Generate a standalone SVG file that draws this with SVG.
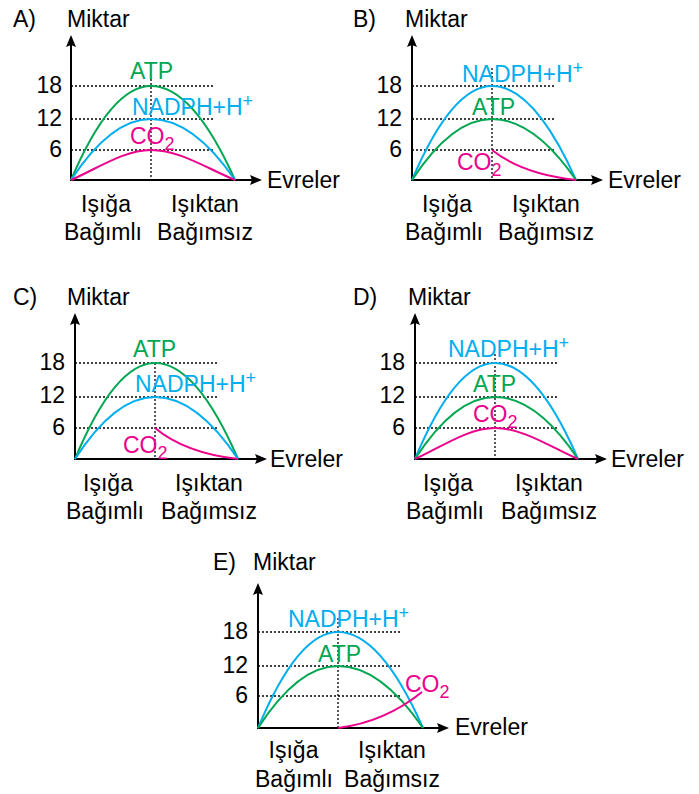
<svg xmlns="http://www.w3.org/2000/svg" width="699" height="794" viewBox="0 0 699 794">
<style>
text{font-family:"Liberation Sans",Arial,sans-serif;font-size:23px;fill:#000}
.mid{text-anchor:middle}
.end{text-anchor:end}
.ax{stroke:#000;stroke-width:2;fill:none}
.dot{stroke:#000;stroke-width:1.3;stroke-dasharray:2 2;fill:none}
.c{fill:none;stroke-width:2}
.g{stroke:#00A651}.b{stroke:#00AEEF}.m{stroke:#EC008C}
text.tg{fill:#00A651}text.tb{fill:#00AEEF}text.tm{fill:#EC008C}
.s{font-size:18px}
</style>
<defs>
<marker id="arr" viewBox="0 0 12 10" refX="10" refY="5" markerWidth="12" markerHeight="10" markerUnits="userSpaceOnUse" orient="auto">
<path d="M0,0 L12,5 L0,10 L2,5 z" fill="#000"/>
</marker>
</defs>
<rect width="699" height="794" fill="#fff"/>

<g id="panelA">
<text x="13" y="27">A)</text>
<text x="67" y="27">Miktar</text>
<g id="A-connectors">
<path class="dot" d="M71,86H215M71,119H215M71,150H215M151,79V180"/>
<path class="ax" d="M71,181V37" marker-end="url(#arr)"/>
<path class="ax" d="M70,180H260" marker-end="url(#arr)"/>
<path class="c g" d="M71,180 Q111,86 151,86 Q193,86 235,180"/>
<path class="c b" d="M71,180 Q111,119 151,119 Q193,119 235,180"/>
<path class="c m" d="M71,180 C97.4,168.6 123.8,150 151,150 C179.6,150 207.3,168.6 235,180"/>
</g>
<text class="end" x="62" y="92.5">18</text>
<text class="end" x="62" y="125.5">12</text>
<text class="end" x="62" y="156.5">6</text>
<text x="267" y="188">Evreler</text>
<text class="mid" x="106" y="212">Işığa</text>
<text class="mid" x="103" y="240">Bağımlı</text>
<text class="mid" x="205" y="212">Işıktan</text>
<text class="mid" x="205" y="240">Bağımsız</text>
<text class="tg" x="130" y="79">ATP</text>
<text class="tb" x="132" y="115">NADPH+H<tspan class="s" dy="-8">+</tspan></text>
<text class="tm" x="130" y="143.5">CO<tspan class="s" dy="6">2</tspan></text>
</g>

<g id="panelB">
<text x="353" y="27">B)</text>
<text x="405" y="27">Miktar</text>
<g id="B-connectors">
<path class="dot" d="M412,86H556M412,119H556M412,150H556M492,68V180"/>
<path class="ax" d="M412,181V37" marker-end="url(#arr)"/>
<path class="ax" d="M411,180H601" marker-end="url(#arr)"/>
<path class="c b" d="M412,180 Q452,86 492,86 Q534,86 576,180"/>
<path class="c g" d="M412,180 Q452,119 492,119 Q534,119 576,180"/>
<path class="c m" d="M492,150 Q522,174 576,180"/>
</g>
<text class="end" x="402" y="92.5">18</text>
<text class="end" x="402" y="125.5">12</text>
<text class="end" x="402" y="156.5">6</text>
<text x="608" y="188">Evreler</text>
<text class="mid" x="447" y="212">Işığa</text>
<text class="mid" x="444" y="240">Bağımlı</text>
<text class="mid" x="546" y="212">Işıktan</text>
<text class="mid" x="546" y="240">Bağımsız</text>
<text class="tb" x="462" y="81.5">NADPH+H<tspan class="s" dy="-8">+</tspan></text>
<text class="tg" x="472" y="115">ATP</text>
<text class="tm" x="457" y="170">CO<tspan class="s" dy="6">2</tspan></text>
</g>

<g id="panelC">
<text x="13" y="305">C)</text>
<text x="67" y="305">Miktar</text>
<g id="C-connectors">
<path class="dot" d="M75,363H218M75,397H218M75,428H218M155,363V459"/>
<path class="ax" d="M75,460V315" marker-end="url(#arr)"/>
<path class="ax" d="M74,459H265" marker-end="url(#arr)"/>
<path class="c g" d="M75,459 Q115,363 155,363 Q196.5,363 238,459"/>
<path class="c b" d="M75,459 Q115,397 155,397 Q196.5,397 238,459"/>
<path class="c m" d="M155,428 Q185,453 238,459"/>
</g>
<text class="end" x="65" y="369.5">18</text>
<text class="end" x="65" y="403">12</text>
<text class="end" x="65" y="434.5">6</text>
<text x="270" y="467">Evreler</text>
<text class="mid" x="108" y="491">Işığa</text>
<text class="mid" x="105" y="519">Bağımlı</text>
<text class="mid" x="209" y="491">Işıktan</text>
<text class="mid" x="209" y="519">Bağımsız</text>
<text class="tg" x="133" y="357">ATP</text>
<text class="tb" x="135" y="392">NADPH+H<tspan class="s" dy="-8">+</tspan></text>
<text class="tm" x="123" y="453">CO<tspan class="s" dy="6">2</tspan></text>
</g>

<g id="panelD">
<text x="353" y="305">D)</text>
<text x="408" y="305">Miktar</text>
<g id="D-connectors">
<path class="dot" d="M415,363H558M415,397H558M415,428H558M495,354V459"/>
<path class="ax" d="M415,460V315" marker-end="url(#arr)"/>
<path class="ax" d="M414,459H605" marker-end="url(#arr)"/>
<path class="c b" d="M415,459 Q455,363 495,363 Q536.5,363 578,459"/>
<path class="c g" d="M415,459 Q455,397 495,397 Q536.5,397 578,459"/>
<path class="c m" d="M415,459 C441.4,447.2 467.8,428 495,428 C523.2,428 550.6,447.2 578,459"/>
</g>
<text class="end" x="405" y="369.5">18</text>
<text class="end" x="405" y="403">12</text>
<text class="end" x="405" y="434.5">6</text>
<text x="611" y="467">Evreler</text>
<text class="mid" x="448" y="491">Işığa</text>
<text class="mid" x="445" y="519">Bağımlı</text>
<text class="mid" x="549" y="491">Işıktan</text>
<text class="mid" x="549" y="519">Bağımsız</text>
<text class="tb" x="448" y="357">NADPH+H<tspan class="s" dy="-8">+</tspan></text>
<text class="tg" x="473" y="392">ATP</text>
<text class="tm" x="473" y="422">CO<tspan class="s" dy="6">2</tspan></text>
</g>

<g id="panelE">
<text x="213" y="570">E)</text>
<text x="253" y="570">Miktar</text>
<g id="E-connectors">
<path class="dot" d="M258,632H402M258,666H402M258,696H402M338,618V728"/>
<path class="ax" d="M258,729V585" marker-end="url(#arr)"/>
<path class="ax" d="M257,728H447" marker-end="url(#arr)"/>
<path class="c b" d="M258,728 Q298,632 338,632 Q380.5,632 423,728"/>
<path class="c g" d="M258,728 Q298,666 338,666 Q380.5,666 423,728"/>
<path class="c m" d="M338,728 Q385,722 422,692"/>
</g>
<text class="end" x="248" y="638.5">18</text>
<text class="end" x="248" y="672.5">12</text>
<text class="end" x="248" y="702.5">6</text>
<text x="455" y="735">Evreler</text>
<text class="mid" x="293.5" y="758">Işığa</text>
<text class="mid" x="294" y="787">Bağımlı</text>
<text class="mid" x="392" y="758">Işıktan</text>
<text class="mid" x="392" y="787">Bağımsız</text>
<text class="tb" x="288" y="627">NADPH+H<tspan class="s" dy="-8">+</tspan></text>
<text class="tg" x="318" y="662">ATP</text>
<text class="tm" x="405" y="692">CO<tspan class="s" dy="6">2</tspan></text>
</g>
</svg>
